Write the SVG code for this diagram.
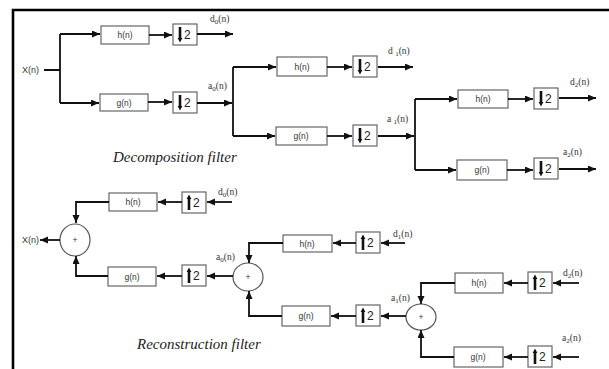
<svg xmlns="http://www.w3.org/2000/svg" width="609" height="369" viewBox="0 0 609 369">
<defs>
<style>
.box{fill:#fff;stroke:#666;stroke-width:1.2}
.bt{font-family:"Liberation Sans",Arial,sans-serif;font-size:8.5px;fill:#333;text-anchor:middle}
.two{font-family:"Liberation Sans",Arial,sans-serif;font-size:12px;fill:#222}
.lbl{font-family:"Liberation Serif","Times New Roman",serif;font-size:9.5px;fill:#333}
.sub{font-size:7px}
.cap{font-family:"Liberation Serif","Times New Roman",serif;font-size:15px;font-style:italic;fill:#222}
.w{fill:none;stroke:#111;stroke-width:1.8}
.a{fill:none;stroke:#111;stroke-width:1.8;marker-end:url(#ah)}
.sum{fill:#fff;stroke:#555;stroke-width:1.2}
.bar{stroke:#111;stroke-width:2.6}
</style>
<marker id="ah" markerUnits="userSpaceOnUse" markerWidth="9" markerHeight="8" refX="8" refY="3.5" orient="auto">
<path d="M0,0 L8,3.5 L0,7 z" fill="#111"/>
</marker>
<g id="down">
<rect class="box" x="0" y="0" width="24" height="21"/>
<line class="bar" x1="7" y1="3" x2="7" y2="15"/>
<path d="M4.6,14 L9.4,14 L7,18.5 z" fill="#111"/>
<text class="two" x="11" y="15">2</text>
</g>
<g id="up">
<rect class="box" x="0" y="0" width="24" height="21"/>
<line class="bar" x1="7" y1="6" x2="7" y2="18"/>
<path d="M4.6,7 L9.4,7 L7,2.5 z" fill="#111"/>
<text class="two" x="11" y="15">2</text>
</g>
</defs>
<rect x="0" y="0" width="609" height="369" fill="#fff"/>
<path d="M13,369 V10 H609" fill="none" stroke="#000" stroke-width="2.6"/>

<!-- Decomposition nodes -->
<g id="x-in"><text class="lbl" x="22" y="73" style="font-family:'Liberation Sans',Arial,sans-serif;font-size:9px">X(n)</text></g>
<g id="d-h1"><rect class="box" x="101" y="26" width="48" height="18"/><text class="bt" x="125" y="38">h(n)</text></g>
<g id="d-hd1"><use href="#down" x="173" y="24"/></g>
<g id="d-g1"><rect class="box" x="100" y="94" width="48" height="17"/><text class="bt" x="124" y="106">g(n)</text></g>
<g id="d-gd1"><use href="#down" x="173" y="92"/></g>
<g id="d-h2"><rect class="box" x="277" y="57" width="50" height="19"/><text class="bt" x="302" y="70">h(n)</text></g>
<g id="d-hd2"><use href="#down" x="353" y="56"/></g>
<g id="d-g2"><rect class="box" x="276" y="127" width="51" height="18"/><text class="bt" x="301" y="139">g(n)</text></g>
<g id="d-gd2"><use href="#down" x="353" y="125"/></g>
<g id="d-h3"><rect class="box" x="458" y="90" width="50" height="18"/><text class="bt" x="483" y="102">h(n)</text></g>
<g id="d-hd3"><use href="#down" x="534" y="88"/></g>
<g id="d-g3"><rect class="box" x="457" y="160" width="50" height="20"/><text class="bt" x="482" y="173">g(n)</text></g>
<g id="d-gd3"><use href="#down" x="534" y="158"/></g>

<g id="d-labels">
<text class="lbl" x="210" y="22">d<tspan class="sub" dy="1.5">0</tspan><tspan dy="-1.5">(n)</tspan></text>
<text class="lbl" x="208" y="89">a<tspan class="sub" dy="1.5">0</tspan><tspan dy="-1.5">(n)</tspan></text>
<text class="lbl" x="388" y="54">d <tspan class="sub" dy="1.5">1</tspan><tspan dy="-1.5">(n)</tspan></text>
<text class="lbl" x="387" y="122">a <tspan class="sub" dy="1.5">1</tspan><tspan dy="-1.5">(n)</tspan></text>
<text class="lbl" x="570" y="85">d<tspan class="sub" dy="1.5">2</tspan><tspan dy="-1.5">(n)</tspan></text>
<text class="lbl" x="563" y="155">a<tspan class="sub" dy="1.5">2</tspan><tspan dy="-1.5">(n)</tspan></text>
<text class="cap" x="113" y="162">Decomposition filter</text>
</g>

<!-- Reconstruction nodes -->
<g id="x-out"><text class="lbl" x="22" y="243" style="font-family:'Liberation Sans',Arial,sans-serif;font-size:9px">X(n)</text></g>
<g id="r-sum1"><ellipse class="sum" cx="75" cy="240" rx="15" ry="16"/><text class="bt" x="75" y="243">+</text></g>
<g id="r-h1"><rect class="box" x="109" y="193" width="48" height="18"/><text class="bt" x="133" y="205">h(n)</text></g>
<g id="r-hu1"><use href="#up" x="182" y="192"/></g>
<g id="r-g1"><rect class="box" x="108" y="267" width="48" height="19"/><text class="bt" x="132" y="280">g(n)</text></g>
<g id="r-gu1"><use href="#up" x="182" y="265"/></g>
<g id="r-sum2"><ellipse class="sum" cx="248" cy="277" rx="15" ry="14"/><text class="bt" x="248" y="280">+</text></g>
<g id="r-h2"><rect class="box" x="283" y="235" width="49" height="17"/><text class="bt" x="307" y="247">h(n)</text></g>
<g id="r-hu2"><use href="#up" x="356" y="232"/></g>
<g id="r-g2"><rect class="box" x="282" y="306" width="48" height="20"/><text class="bt" x="306" y="319">g(n)</text></g>
<g id="r-gu2"><use href="#up" x="356" y="305"/></g>
<g id="r-sum3"><ellipse class="sum" cx="421" cy="317" rx="15" ry="13"/><text class="bt" x="421" y="320">+</text></g>
<g id="r-h3"><rect class="box" x="455" y="273" width="48" height="20"/><text class="bt" x="479" y="286">h(n)</text></g>
<g id="r-hu3"><use href="#up" x="528" y="272"/></g>
<g id="r-g3"><rect class="box" x="454" y="347" width="49" height="20"/><text class="bt" x="478" y="360">g(n)</text></g>
<g id="r-gu3"><use href="#up" x="528" y="346"/></g>

<g id="r-labels">
<text class="lbl" x="218" y="195">d<tspan class="sub" dy="1.5">0</tspan><tspan dy="-1.5">(n)</tspan></text>
<text class="lbl" x="216" y="260">a<tspan class="sub" dy="1.5">0</tspan><tspan dy="-1.5">(n)</tspan></text>
<text class="lbl" x="393" y="237">d<tspan class="sub" dy="1.5">1</tspan><tspan dy="-1.5">(n)</tspan></text>
<text class="lbl" x="391" y="301">a<tspan class="sub" dy="1.5">1</tspan><tspan dy="-1.5">(n)</tspan></text>
<text class="lbl" x="563" y="276">d<tspan class="sub" dy="1.5">2</tspan><tspan dy="-1.5">(n)</tspan></text>
<text class="lbl" x="562" y="341">a<tspan class="sub" dy="1.5">2</tspan><tspan dy="-1.5">(n)</tspan></text>
<text class="cap" x="137" y="349">Reconstruction filter</text>
</g>

<g id="connectors">
<path class="w" d="M44,70 H60 M60,34 V103"/>
<path class="a" d="M60,34 H100"/>
<path class="a" d="M60,103 H99"/>
<path class="a" d="M149,35 H172"/>
<path class="a" d="M197,34 H233"/>
<path class="a" d="M148,102 H172"/>
<path class="a" d="M197,103 H232"/>
<path class="w" d="M233,67 V136"/>
<path class="a" d="M233,67 H276"/>
<path class="a" d="M233,136 H275"/>
<path class="a" d="M327,67 H352"/>
<path class="a" d="M378,67 H413"/>
<path class="a" d="M327,136 H352"/>
<path class="a" d="M378,136 H414"/>
<path class="w" d="M415,99 V170"/>
<path class="a" d="M415,99 H457"/>
<path class="a" d="M415,170 H456"/>
<path class="a" d="M508,99 H533"/>
<path class="a" d="M559,98 H596"/>
<path class="a" d="M507,170 H533"/>
<path class="a" d="M559,169 H596"/>

<path class="a" d="M232,202 H207"/>
<path class="a" d="M182,202 H158"/>
<path class="a" d="M109,202 H76 V223"/>
<path class="a" d="M233,276 H207"/>
<path class="a" d="M182,276 H157"/>
<path class="a" d="M108,276 H76 V256"/>
<path class="a" d="M60,240 H40"/>
<path class="a" d="M405,243 H381"/>
<path class="a" d="M356,243 H333"/>
<path class="a" d="M283,243 H249 V263"/>
<path class="a" d="M406,316 H381"/>
<path class="a" d="M356,316 H331"/>
<path class="a" d="M282,316 H249 V291"/>
<path class="a" d="M579,283 H553"/>
<path class="a" d="M528,283 H504"/>
<path class="a" d="M455,283 H421 V304"/>
<path class="a" d="M579,357 H553"/>
<path class="a" d="M528,357 H504"/>
<path class="a" d="M454,357 H421 V330"/>
</g>
</svg>
